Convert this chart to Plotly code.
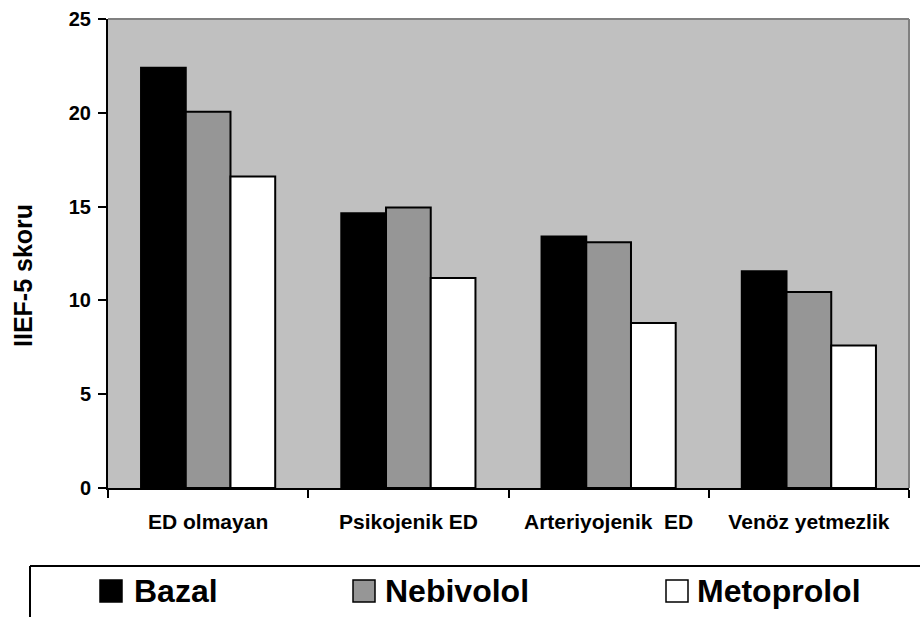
import plotly.graph_objects as go

# IIEF-5 scores by ED group and treatment
categories = ["ED olmayan", "Psikojenik ED", "Arteriyojenik  ED", "Venöz yetmezlik"]
bazal = [22.4, 14.65, 13.4, 11.55]
nebivolol = [20.05, 14.95, 13.1, 10.45]
metoprolol = [16.6, 11.2, 8.8, 7.6]
series_names = ["Bazal", "Nebivolol", "Metoprolol"]
y_ticks = [0, 5, 10, 15, 20, 25]
y_title = "IIEF-5 skoru"

FONT = "Liberation Sans, Arial, sans-serif"
fills = ["#000000", "#969696", "#ffffff"]

W, H = 920, 617
L, R, T, B = 108, 11, 19, 129
pw, ph = W - L - R, H - T - B


def px_x(px):
    return (px - L) / pw


def px_y(py):
    return (H - B - py) / ph


fig = go.Figure()
for name, vals, col in zip(series_names, [bazal, nebivolol, metoprolol], fills):
    fig.add_trace(go.Bar(
        name=name, x=categories, y=vals,
        marker=dict(color=col, line=dict(color="#000000", width=2)),
        showlegend=False,
    ))

shapes = [
    # top and right frame of the plot area
    dict(type="line", xref="paper", yref="paper", x0=0, x1=1, y0=1, y1=1,
         line=dict(color="#808080", width=2), layer="above"),
    dict(type="line", xref="paper", yref="paper", x0=1, x1=1, y0=0, y1=1,
         line=dict(color="#808080", width=2), layer="above"),
    # legend box (top and left edges)
    dict(type="line", xref="paper", yref="paper", x0=px_x(30), x1=px_x(925),
         y0=px_y(566), y1=px_y(566), line=dict(color="#000000", width=2)),
    dict(type="line", xref="paper", yref="paper", x0=px_x(30), x1=px_x(30),
         y0=px_y(566), y1=px_y(625), line=dict(color="#000000", width=2)),
]

annotations = [
    # y-axis title, placed a little below the plot centre
    dict(text=y_title, xref="paper", yref="paper", x=px_x(23), y=px_y(276),
         xanchor="center", yanchor="middle", textangle=-90, showarrow=False,
         font=dict(family=FONT, size=25, color="#000000", weight="bold")),
]
legend_x = [(100, 132), (353, 383), (666, 695)]
for (sx, tx), name, col in zip(legend_x, series_names, fills):
    shapes.append(dict(type="rect", xref="paper", yref="paper",
                       x0=px_x(sx), x1=px_x(sx + 22), y0=px_y(602), y1=px_y(580),
                       fillcolor=col, line=dict(color="#000000", width=1.5)))
    annotations.append(dict(text=name, xref="paper", yref="paper",
                            x=px_x(tx), y=px_y(591), xanchor="left", yanchor="middle",
                            showarrow=False,
                            font=dict(family=FONT, size=32, color="#000000", weight="bold")))

fig.update_layout(
    width=W, height=H,
    margin=dict(l=L, r=R, t=T, b=B, pad=0),
    paper_bgcolor="#ffffff",
    plot_bgcolor="#c0c0c0",
    barmode="group",
    bargap=0.33,
    bargroupgap=0,
    font=dict(family=FONT, color="#000000"),
    shapes=shapes,
    annotations=annotations,
)

fig.update_xaxes(
    showline=True, linecolor="#000000", linewidth=2,
    ticks="outside", ticklen=8, tickwidth=2, tickcolor="#000000",
    tickson="boundaries", showgrid=False, automargin=False,
    tickfont=dict(family=FONT, size=21, weight="bold"),
    ticklabelstandoff=14,
)
fig.update_yaxes(
    range=[0, 25], tickvals=y_ticks,
    showline=True, linecolor="#000000", linewidth=2,
    ticks="outside", ticklen=8, tickwidth=2, tickcolor="#000000",
    showgrid=False, zeroline=False, automargin=False,
    tickfont=dict(family=FONT, size=20, weight="bold"),
    ticklabelstandoff=3,
)

fig.write_html("out.html")
